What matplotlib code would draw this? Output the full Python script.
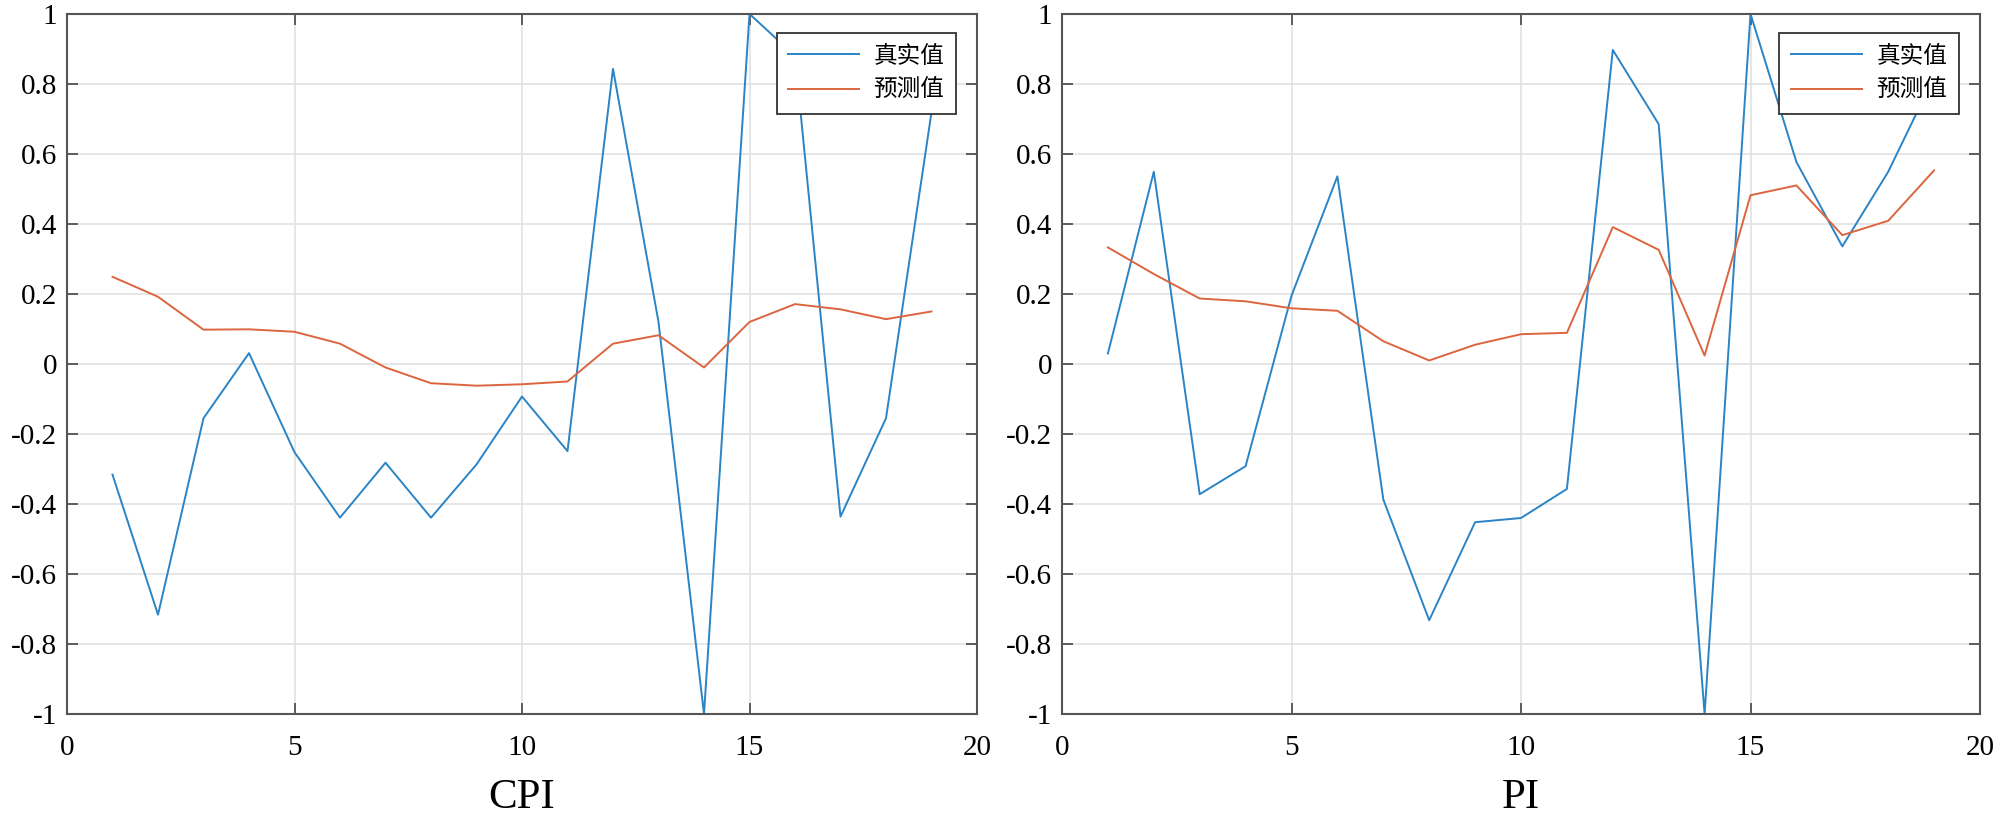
import matplotlib
matplotlib.use("Agg")
import matplotlib.pyplot as plt
import numpy as np

plt.rcParams['font.family'] = ['Liberation Serif', 'Noto Sans CJK SC', 'DejaVu Sans']
plt.rcParams['axes.unicode_minus'] = False

x = list(range(1, 20))

cpi_true = [-0.316, -0.716, -0.155, 0.031, -0.252, -0.439, -0.282, -0.439, -0.287, -0.093,
            -0.249, 0.843, 0.12, -1.0, 1.0, 0.88, -0.436, -0.155, 0.719]
cpi_pred = [0.249, 0.192, 0.098, 0.099, 0.092, 0.058, -0.010, -0.055, -0.062, -0.058,
            -0.050, 0.058, 0.082, -0.010, 0.120, 0.171, 0.156, 0.128, 0.150]

pi_true = [0.030, 0.549, -0.372, -0.292, 0.195, 0.536, -0.387, -0.732, -0.452, -0.440,
           -0.357, 0.897, 0.685, -1.0, 1.0, 0.577, 0.336, 0.549, 0.82]
pi_pred = [0.333, 0.257, 0.187, 0.179, 0.159, 0.152, 0.065, 0.010, 0.055, 0.085,
           0.089, 0.391, 0.326, 0.024, 0.482, 0.510, 0.368, 0.409, 0.553]

xticks = [0, 5, 10, 15, 20]
yticks = [-1, -0.8, -0.6, -0.4, -0.2, 0, 0.2, 0.4, 0.6, 0.8, 1]
ytick_labels = ['-1', '-0.8', '-0.6', '-0.4', '-0.2', '0', '0.2', '0.4', '0.6', '0.8', '1']
titles = ['CPI', 'PI']
legend_labels = ['真实值', '预测值']

blue = '#2a84c6'
orange = '#dc6540'

fig = plt.figure(figsize=(20, 8.17), dpi=100)
ax1 = fig.add_axes([0.0335, 0.126, 0.455, 0.857])
ax2 = fig.add_axes([0.531, 0.126, 0.459, 0.857])

for ax, yt, yp, title in [(ax1, cpi_true, cpi_pred, titles[0]), (ax2, pi_true, pi_pred, titles[1])]:
    ax.plot(x, yt, color=blue, lw=1.4, label=legend_labels[0])
    ax.plot(x, yp, color=orange, lw=1.4, label=legend_labels[1])
    ax.set_xlim(0, 20)
    ax.set_ylim(-1, 1)
    ax.set_xticks(xticks)
    ax.set_xticklabels([str(v) for v in xticks])
    ax.set_yticks(yticks)
    ax.set_yticklabels(ytick_labels)
    ax.grid(True, color='#e2e2e2', lw=1.2)
    ax.set_axisbelow(True)
    ax.tick_params(direction='in', length=8, width=1.2, color='#444444',
                   top=True, right=True, labelsize=21)
    ax.tick_params(axis='x', pad=15)
    ax.tick_params(axis='y', pad=7)
    for lab in ax.get_xticklabels() + ax.get_yticklabels():
        lab.set_family('Liberation Serif')
    for s in ax.spines.values():
        s.set_color('#555555')
        s.set_linewidth(1.5)
    ax.set_xlabel(title, fontsize=31, family='Liberation Serif', labelpad=13)
    leg = ax.legend(loc='upper right', bbox_to_anchor=(0.977, 0.973), borderaxespad=0,
                    fancybox=False, framealpha=1, edgecolor='#333333',
                    prop={'family': ['Noto Sans CJK SC'], 'size': 17},
                    handlelength=3.0, handletextpad=0.6, borderpad=0.5, labelspacing=0.5)
    leg.get_frame().set_linewidth(1.3)

fig.savefig('out.png', dpi=100)
